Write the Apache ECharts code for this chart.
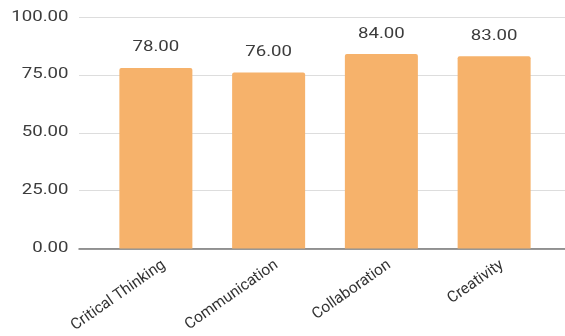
<!DOCTYPE html>
<html><head><meta charset="utf-8">
<script src="https://cdn.jsdelivr.net/npm/echarts@6/dist/echarts.min.js"></script>
<style>html,body{margin:0;padding:0;background:#fff}#c{width:565px;height:336px}</style>
</head><body><div id="c"></div>
<script>
var categories = ['Critical Thinking', 'Communication', 'Collaboration', 'Creativity'];
var scores = [78, 76, 84, 83];
var yTicks = [0, 25, 50, 75, 100];

// the reference draws its numbers horizontally wide
(function(){
  var proto = CanvasRenderingContext2D.prototype;
  var orig = proto.fillText;
  proto.fillText = function(t, x, y, m){
    if (/^[0-9.]+$/.test(t)) {
      var s = 1.33;
      this.save();
      this.translate(x, y);
      this.scale(s, 1);
      if (m === undefined) orig.call(this, t, 0, 0); else orig.call(this, t, 0, 0, m / s);
      this.restore();
    } else {
      if (m === undefined) orig.call(this, t, x, y); else orig.call(this, t, x, y, m);
    }
  };
})();

var chart = echarts.init(document.getElementById('c'), null, {renderer: 'canvas'});
var font = 'Roboto';
var yMin = yTicks[0], yMax = yTicks[yTicks.length - 1];
chart.setOption({
  animation: false,
  grid: [
    {left: 79, right: 0, top: 17, bottom: 87.5},
    {left: 99.5, width: 451, top: 17, bottom: 87.5},
    {left: 107.5, width: 451, top: 17, bottom: 87.5}
  ],
  xAxis: [
    {gridIndex: 0, type: 'category', data: categories,
     axisLine: {show: true, lineStyle: {color: '#777', width: 1.5}},
     axisTick: {show: false}, axisLabel: {show: false}},
    {gridIndex: 1, type: 'category', data: categories,
     axisLine: {show: false}, axisTick: {show: false}, axisLabel: {show: false}},
    {gridIndex: 2, type: 'category', data: categories,
     axisLine: {show: false}, axisTick: {show: false},
     axisLabel: {rotate: 35, margin: 15, color: '#333', fontSize: 15.5, fontFamily: font, interval: 0}}
  ],
  yAxis: [
    {gridIndex: 0, type: 'value', min: yMin, max: yMax, interval: 25,
     axisLine: {show: false}, axisTick: {show: false},
     splitLine: {lineStyle: {color: '#dddddd', width: 1}},
     axisLabel: {margin: 10.5, color: '#3c3c3c', fontSize: 14, fontFamily: font,
       formatter: function(v){ return v.toFixed(2); }}},
    {gridIndex: 1, type: 'value', min: yMin, max: yMax, interval: 25, show: false, splitLine: {show: false}},
    {gridIndex: 2, type: 'value', min: yMin, max: yMax, interval: 25, show: false, splitLine: {show: false}}
  ],
  series: [{
    type: 'bar', xAxisIndex: 1, yAxisIndex: 1, data: scores, barWidth: 73,
    itemStyle: {color: '#F6B26B', borderRadius: [2, 2, 0, 0]},
    label: {show: true, position: 'top', distance: 13, color: '#3c3c3c', fontSize: 14, fontFamily: font,
      formatter: function(p){ return p.value.toFixed(2); }}
  }]
});
</script></body></html>
